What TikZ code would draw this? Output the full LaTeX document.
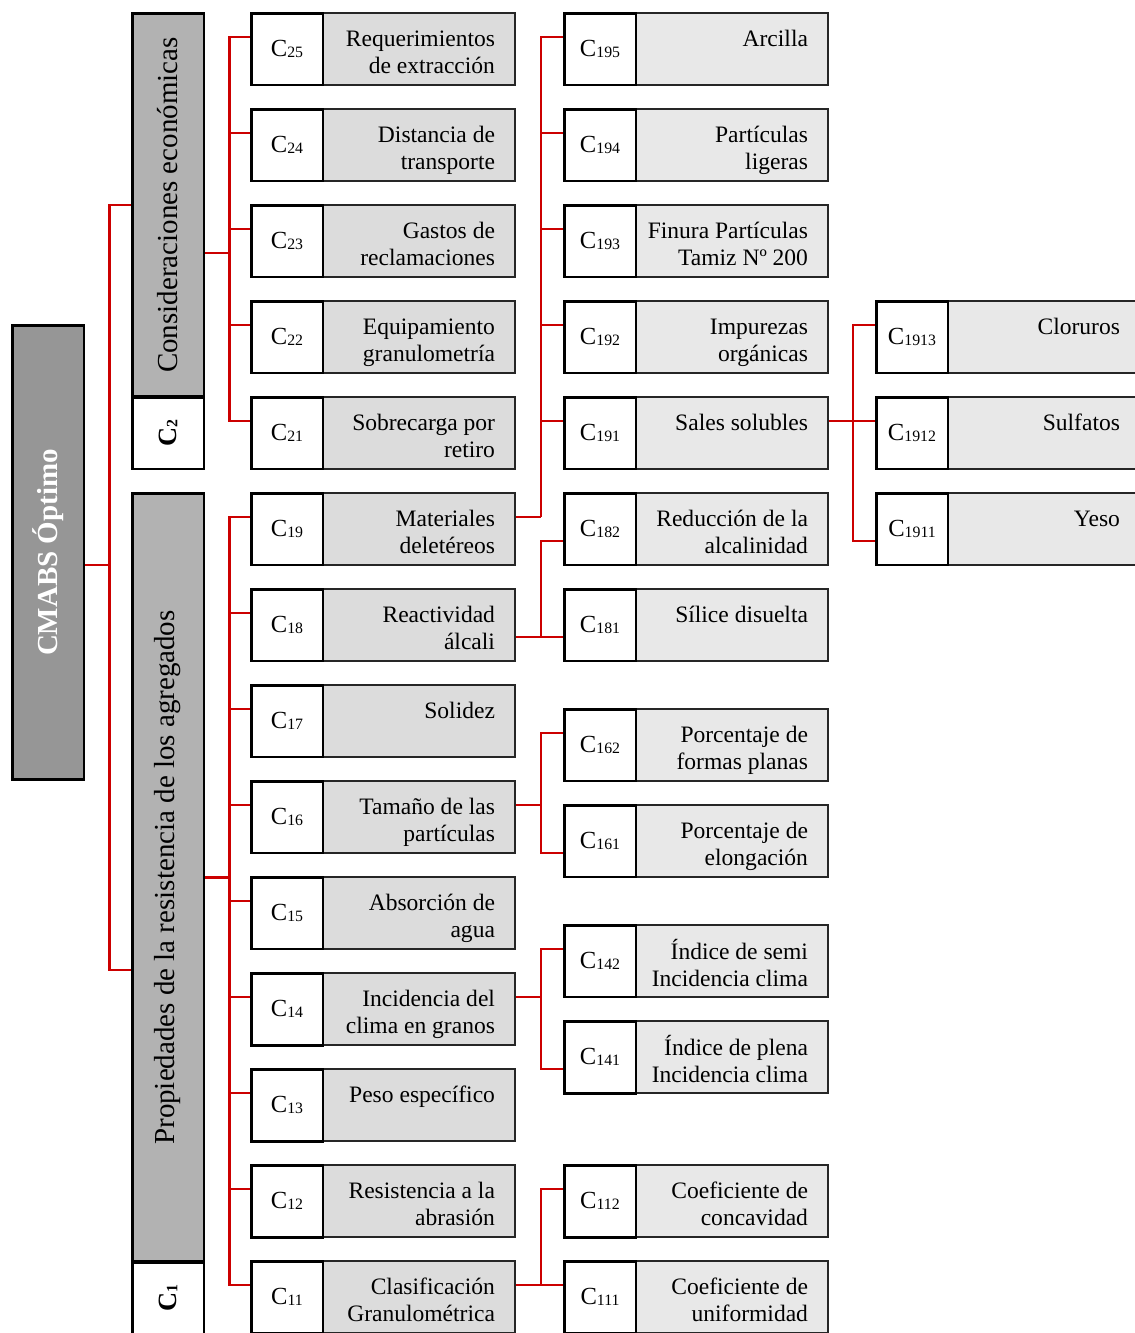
\documentclass[tikz,border=0pt]{standalone}
\usepackage{fontspec}
\setmainfont{Liberation Serif}
\usetikzlibrary{calc}

\definecolor{rootgray}{HTML}{969696}
\definecolor{colgray}{HTML}{B2B2B2}
\definecolor{boxgray}{HTML}{DCDCDC}
\definecolor{leafgray}{HTML}{E8E8E8}
\definecolor{linkred}{HTML}{CC0000}

\newcommand{\ccode}[1]{C\raisebox{-0.8pt}{\fontsize{9}{10}\selectfont #1}}
\newcommand{\dtext}[1]{\parbox[c][0.88cm][t]{3.44cm}{\raggedleft\strut #1}\hspace*{0.4cm}}

\begin{document}
\begin{tikzpicture}[x=0.02cm, y=-0.02cm,
    code/.style={draw=black, line width=1.7pt, fill=white, minimum width=1.44cm, minimum height=1.44cm, inner sep=0pt, font=\fontsize{14}{16}\selectfont},
    desc/.style={draw=black!85, line width=1.1pt, fill=boxgray, minimum width=3.84cm, minimum height=1.44cm, inner sep=0pt, font=\fontsize{13.4}{15.6}\selectfont},
    leaf/.style={desc, fill=leafgray},
    column/.style={draw=black, line width=1.7pt, fill=colgray, minimum width=1.44cm, inner sep=0pt, font=\fontsize{16.5}{19}\selectfont},
    conn/.style={draw=linkred, line width=1.2pt}]
        % \draw[help lines] (0,0) grid[step=100] (1134,1333);
        \useasboundingbox (0,0) rectangle (1134,1333);

        \node[column, fill=rootgray, minimum height=9.1cm, text=white, font=\fontsize{16.5}{19}\selectfont\bfseries] (root) at (48,552.5) {\rotatebox{90}{CMABS Óptimo}};

        \node[column, minimum height=7.68cm] (econ) at (168,205) {\rotatebox{90}{Consideraciones económicas}};
        \node[code, font=\fontsize{15}{17}\selectfont\bfseries] (c2) at (168,433) {\rotatebox{90}{\ccode{2}}};
        \node[column, minimum height=15.38cm] (prop) at (168,877.5) {\rotatebox{90}{Propiedades de la resistencia de los agregados}};
        \node[code, font=\fontsize{15}{17}\selectfont\bfseries] (c1) at (168,1298) {\rotatebox{90}{\ccode{1}}};

        % second level
        \node[desc] (t25) at (419,49) {\dtext{Requerimientos\\de extracción}};
        \node[code] (c25) at (287,49) {\ccode{25}};
        \node[desc] (t24) at (419,145) {\dtext{Distancia de\\transporte}};
        \node[code] (c24) at (287,145) {\ccode{24}};
        \node[desc] (t23) at (419,241) {\dtext{Gastos de\\reclamaciones}};
        \node[code] (c23) at (287,241) {\ccode{23}};
        \node[desc] (t22) at (419,337) {\dtext{Equipamiento\\granulometría}};
        \node[code] (c22) at (287,337) {\ccode{22}};
        \node[desc] (t21) at (419,433) {\dtext{Sobrecarga por\\retiro}};
        \node[code] (c21) at (287,433) {\ccode{21}};

        \node[desc] (t19) at (419,529) {\dtext{Materiales\\deletéreos}};
        \node[code] (c19) at (287,529) {\ccode{19}};
        \node[desc] (t18) at (419,625) {\dtext{Reactividad\\álcali}};
        \node[code] (c18) at (287,625) {\ccode{18}};
        \node[desc] (t17) at (419,721) {\dtext{Solidez}};
        \node[code] (c17) at (287,721) {\ccode{17}};
        \node[desc] (t16) at (419,817) {\dtext{Tamaño de las\\partículas}};
        \node[code] (c16) at (287,817) {\ccode{16}};
        \node[desc] (t15) at (419,913) {\dtext{Absorción de\\agua}};
        \node[code] (c15) at (287,913) {\ccode{15}};
        \node[desc] (t14) at (419,1009) {\dtext{Incidencia del\\clima en granos}};
        \node[code] (c14) at (287,1009) {\ccode{14}};
        \node[desc] (t13) at (419,1105) {\dtext{Peso específico}};
        \node[code] (c13) at (287,1105) {\ccode{13}};
        \node[desc] (t12) at (419,1201) {\dtext{Resistencia a la\\abrasión}};
        \node[code] (c12) at (287,1201) {\ccode{12}};
        \node[desc] (t11) at (419,1297) {\dtext{Clasificación\\Granulométrica}};
        \node[code] (c11) at (287,1297) {\ccode{11}};

        % third level
        \node[leaf] (t195) at (732,49) {\dtext{Arcilla}};
        \node[code] (c195) at (600,49) {\ccode{195}};
        \node[leaf] (t194) at (732,145) {\dtext{Partículas\\ligeras}};
        \node[code] (c194) at (600,145) {\ccode{194}};
        \node[leaf] (t193) at (732,241) {\dtext{Finura Partículas\\Tamiz Nº 200}};
        \node[code] (c193) at (600,241) {\ccode{193}};
        \node[leaf] (t192) at (732,337) {\dtext{Impurezas\\orgánicas}};
        \node[code] (c192) at (600,337) {\ccode{192}};
        \node[leaf] (t191) at (732,433) {\dtext{Sales solubles}};
        \node[code] (c191) at (600,433) {\ccode{191}};
        \node[leaf] (t182) at (732,529) {\dtext{Reducción de la\\alcalinidad}};
        \node[code] (c182) at (600,529) {\ccode{182}};
        \node[leaf] (t181) at (732,625) {\dtext{Sílice disuelta}};
        \node[code] (c181) at (600,625) {\ccode{181}};
        \node[leaf] (t162) at (732,745) {\dtext{Porcentaje de\\formas planas}};
        \node[code] (c162) at (600,745) {\ccode{162}};
        \node[leaf] (t161) at (732,841) {\dtext{Porcentaje de\\elongación}};
        \node[code] (c161) at (600,841) {\ccode{161}};
        \node[leaf] (t142) at (732,961) {\dtext{Índice de semi\\Incidencia clima}};
        \node[code] (c142) at (600,961) {\ccode{142}};
        \node[leaf] (t141) at (732,1057) {\dtext{Índice de plena\\Incidencia clima}};
        \node[code] (c141) at (600,1057) {\ccode{141}};
        \node[leaf] (t112) at (732,1201) {\dtext{Coeficiente de\\concavidad}};
        \node[code] (c112) at (600,1201) {\ccode{112}};
        \node[leaf] (t111) at (732,1297) {\dtext{Coeficiente de\\uniformidad}};
        \node[code] (c111) at (600,1297) {\ccode{111}};

        % fourth level
        \node[leaf] (t1913) at (1044,337) {\dtext{Cloruros}};
        \node[code] (c1913) at (912,337) {\ccode{1913}};
        \node[leaf] (t1912) at (1044,433) {\dtext{Sulfatos}};
        \node[code] (c1912) at (912,433) {\ccode{1912}};
        \node[leaf] (t1911) at (1044,529) {\dtext{Yeso}};
        \node[code] (c1911) at (912,529) {\ccode{1911}};

        % red links
        \draw[conn] ($(root.east)+(0,12.5)$) -- ++(24,0) coordinate (s0);
        \draw[conn] (econ.west) -| (s0) |- ($(prop.west)+(0,92.5)$);

        \draw[conn] ($(econ.east)+(0,48)$) -- ++(24,0) coordinate (s2);
        \draw[conn] (s2) |- ($(c25.west)+(0,-12)$);
        \draw[conn] (s2) |- ($(c24.west)+(0,-12)$);
        \draw[conn] (s2) |- ($(c23.west)+(0,-12)$);
        \draw[conn] (s2) |- ($(c22.west)+(0,-12)$);
        \draw[conn] (s2) |- ($(c21.west)+(0,-12)$);

        \draw[conn] (prop.east) -- ++(24,0) coordinate (s1);
        \draw[conn] (s1) |- ($(c19.west)+(0,-12)$);
        \draw[conn] (s1) |- ($(c18.west)+(0,-12)$);
        \draw[conn] (s1) |- ($(c17.west)+(0,-12)$);
        \draw[conn] (s1) |- ($(c16.west)+(0,-12)$);
        \draw[conn] (s1) |- ($(c15.west)+(0,-12)$);
        \draw[conn] (s1) |- ($(c14.west)+(0,-12)$);
        \draw[conn] (s1) |- ($(c13.west)+(0,-12)$);
        \draw[conn] (s1) |- ($(c12.west)+(0,-12)$);
        \draw[conn] (s1) |- ($(c11.west)+(0,-12)$);

        \draw[conn] ($(t19.east)+(0,-12)$) -- ++(25,0) coordinate (s19);
        \draw[conn] (s19) |- ($(c195.west)+(0,-12)$);
        \draw[conn] (s19) |- ($(c194.west)+(0,-12)$);
        \draw[conn] (s19) |- ($(c193.west)+(0,-12)$);
        \draw[conn] (s19) |- ($(c192.west)+(0,-12)$);
        \draw[conn] (s19) |- ($(c191.west)+(0,-12)$);

        \draw[conn] ($(t18.east)+(0,12)$) -- ++(25,0) coordinate (s18);
        \draw[conn] (s18) |- ($(c182.west)+(0,12)$);
        \draw[conn] (s18) -- ($(c181.west)+(0,12)$);

        \draw[conn] ($(t16.east)+(0,-12)$) -- ++(25,0) coordinate (s16);
        \draw[conn] (s16) |- ($(c162.west)+(0,-12)$);
        \draw[conn] (s16) |- ($(c161.west)+(0,12)$);

        \draw[conn] ($(t14.east)+(0,-12)$) -- ++(25,0) coordinate (s14);
        \draw[conn] (s14) |- ($(c142.west)+(0,-12)$);
        \draw[conn] (s14) |- ($(c141.west)+(0,12)$);

        \draw[conn] ($(t11.east)+(0,-12)$) -- ++(25,0) coordinate (s11);
        \draw[conn] (s11) |- ($(c112.west)+(0,-12)$);
        \draw[conn] (s11) -- ($(c111.west)+(0,-12)$);

        \draw[conn] ($(t191.east)+(0,-12)$) -- ++(24,0) coordinate (s191);
        \draw[conn] (s191) |- ($(c1913.west)+(0,-12)$);
        \draw[conn] (s191) -- ($(c1912.west)+(0,-12)$);
        \draw[conn] (s191) |- ($(c1911.west)+(0,12)$);
      \end{tikzpicture}
\end{document}
